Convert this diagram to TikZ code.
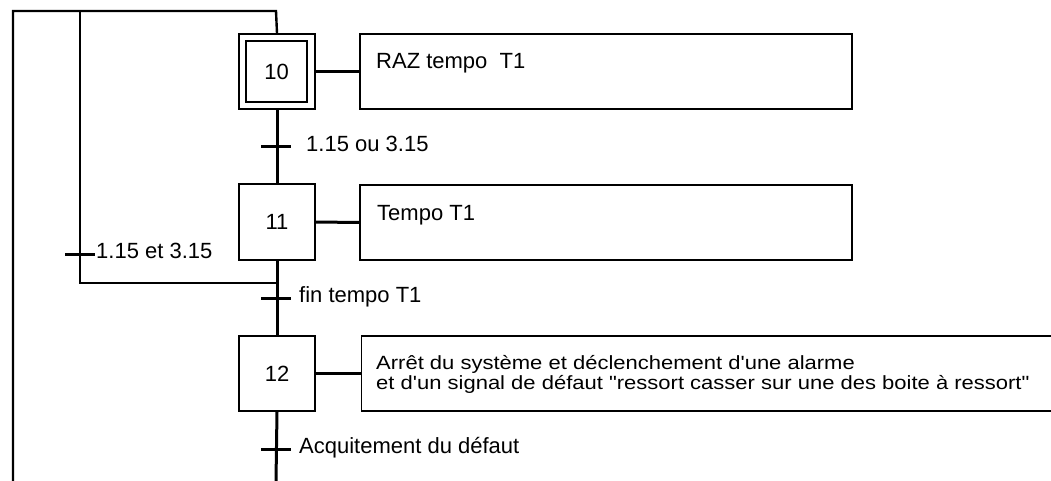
\documentclass[tikz,border=0pt]{standalone}
\usepackage{fontspec}
\usepackage{graphicx}
\newfontfamily\arialf{Liberation Sans}
\begin{document}
\begin{tikzpicture}[x=1pt,y=-1pt,
  every node/.style={font=\arialf\fontsize{22}{25}\selectfont},
  box/.style={draw,line width=1.6pt,inner sep=0pt},
  stepbox/.style={box,minimum width=76pt,minimum height=76pt},
  actbox/.style={box,minimum width=492pt,minimum height=75pt},
  lbl/.style={anchor=base west,inner sep=0pt},
  link/.style={line width=3pt},
  ret/.style={line width=2.4pt},
  tick/.style={line width=3pt}]
\useasboundingbox (0,0) rectangle (1051,481);
\clip (0,0) rectangle (1051,481);
% steps
\node[stepbox,minimum height=75pt] (s10) at (277,71.5) {};
\node[box,minimum width=61pt,minimum height=61pt] (s10in) at (276.5,71.5) {10};
\node[stepbox] (s11) at (277,222) {11};
\node[stepbox,minimum height=75pt] (s12) at (277,373.5) {12};
% actions
\node[actbox] (a10) at (606,71.5) {};
\node[lbl] (a10t) at (376,69) {RAZ tempo~ T1};
\node[actbox] (a11) at (606,222.5) {};
\node[lbl] (a11t) at (377,220) {Tempo T1};
\node[box,minimum width=699pt,minimum height=75pt] (a12) at (711,373.5) {};
\node[lbl] (a12t1) at (376,369)
  {\scalebox{1}[0.87]{Arrêt du système et déclenchement d'une alarme}};
\node[lbl] (a12t2) at (376,389)
  {\scalebox{1}[0.87]{et d'un signal de défaut "ressort casser sur une des boite à ressort"}};
% action links
\draw[link] (s10.east) -- (a10.west);
\draw[link] (s11.east) -- (a11.west);
\draw[link] (s12.east) -- (a12.west);
% main line
\coordinate (end) at (276,481);
\draw[link] (s10.south) -- (s11.north);
\draw[link] (s11.south) -- (s12.north);
\draw[link] (s12.south) -- (end);
% return loops
\coordinate (c1) at (276,11);
\coordinate (c0) at (13,11);
\coordinate (cb) at (13,481);
\coordinate (c2) at (80,11);
\coordinate (c3) at (80,283);
\coordinate (c4) at (276,283);
\draw[ret] (s10.north) -- (c1) -- (c0) -- (cb);
\draw[ret] (c2) -- (c3) -- (c4);
% transitions
\coordinate (t1) at (276,147);
\coordinate (t2) at (80,254);
\coordinate (t3) at (276,298);
\coordinate (t4) at (276,449);
\foreach \t in {t1,t2,t3,t4}{
  \draw[tick] ([xshift=-15pt]\t) -- ([xshift=15pt]\t);
}
\node[lbl] (l1) at (306,152) {1.15 ou 3.15};
\node[lbl] (l2) at (96,258) {1.15 et 3.15};
\node[lbl] (l3) at (299,302) {fin tempo T1};
\node[lbl] (l4) at (299,453) {Acquitement du défaut};
\end{tikzpicture}
\end{document}
